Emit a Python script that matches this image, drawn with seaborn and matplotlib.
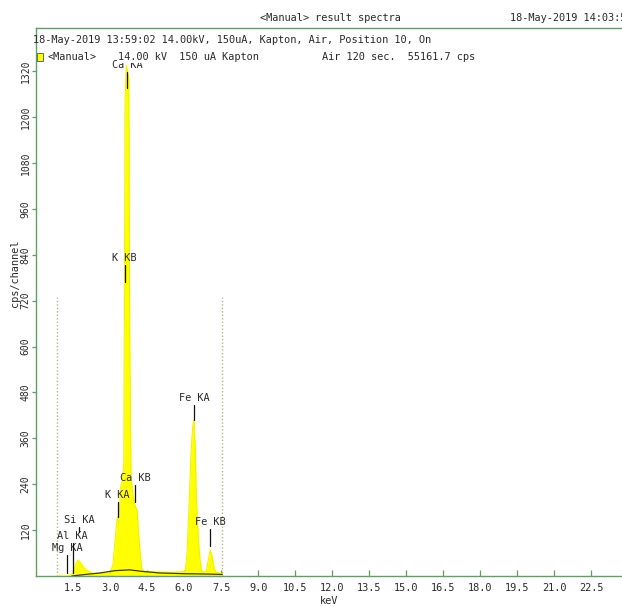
import matplotlib
matplotlib.use("Agg")
import matplotlib.pyplot as plt
import seaborn as sns
import pandas as pd
from matplotlib.patches import Rectangle

# ---------------- data ----------------
energy_kev = [0.85, 1.20, 1.40, 1.47, 1.55, 1.62, 1.71, 1.80, 1.90, 2.05, 2.25, 2.60,
              3.00, 3.12, 3.20, 3.27, 3.31, 3.36, 3.42, 3.50, 3.56, 3.61, 3.66, 3.76,
              3.80, 3.85, 3.92, 4.01, 4.10, 4.18, 4.28, 4.40, 5.00, 5.60, 6.05, 6.12,
              6.20, 6.28, 6.35, 6.40, 6.45, 6.50, 6.56, 6.62, 6.70, 6.80, 6.90, 6.98,
              7.06, 7.14, 7.22, 7.30, 7.40, 7.55]
cps = [0, 0, 2, 5, 20, 32, 42, 35, 25, 15, 8, 6,
       8, 30, 90, 140, 155, 135, 230, 250, 300, 1250, 1335, 1300,
       600, 260, 215, 185, 170, 90, 20, 12, 10, 10, 12, 60,
       180, 320, 390, 408, 340, 200, 120, 60, 15, 10, 12, 40,
       68, 50, 20, 10, 8, 6]

bg_kev = [1.45, 2.0, 2.6, 3.2, 3.8, 4.3, 5.0, 6.0, 7.0, 7.55]
bg_cps = [0, 4, 8, 14, 16, 12, 8, 6, 5, 4]

peak_labels = ["Mg KA", "Al KA", "Si KA", "K KA", "K KB", "Ca KA", "Ca KB", "Fe KA", "Fe KB"]
peak_kev = [1.25, 1.49, 1.74, 3.31, 3.59, 3.69, 4.01, 6.40, 7.06]
marker_top = [55, 86, 128, 193, 813, 1318, 238, 447, 123]
marker_bottom = [8, 8, 115, 154, 769, 1276, 193, 408, 78]

roi_kev = [0.85, 7.55]
roi_height = 730

x_ticks = [1.5, 3.0, 4.5, 6.0, 7.5, 9.0, 10.5, 12.0, 13.5, 15.0, 16.5, 18.0, 19.5, 21.0, 22.5]
y_ticks = [120, 240, 360, 480, 600, 720, 840, 960, 1080, 1200, 1320]

title_text = "<Manual> result spectra"
date_text = "18-May-2019 14:03:5"
header1 = "18-May-2019 13:59:02 14.00kV, 150uA, Kapton, Air, Position 10, On"
header2a = "<Manual>"
header2b = "14.00 kV  150 uA Kapton"
header2c = "Air 120 sec.  55161.7 cps"

# ---------------- style ----------------
sns.set_theme(style="white")
mono = "DejaVu Sans Mono"
plt.rcParams["font.family"] = [mono, "DejaVu Sans"]
green = "#5f9f5f"
txt = "#2a2a2a"

W, H = 622, 607
fig = plt.figure(figsize=(W / 100, H / 100), dpi=100)
ax = fig.add_axes([36 / W, 31 / H, 1 - 36 / W, 548 / H])

spec = pd.DataFrame({"keV": energy_kev, "cps": cps})
bg = pd.DataFrame({"keV": bg_kev, "cps": bg_cps})

ax.fill_between(spec["keV"], 0, spec["cps"], color="#ffff00", linewidth=0, zorder=2)
sns.lineplot(data=spec, x="keV", y="cps", ax=ax, color="#f2f200", linewidth=0.8,
             sort=False, zorder=3)
sns.lineplot(data=bg, x="keV", y="cps", ax=ax, color="#3c3c28", linewidth=0.9,
             sort=False, zorder=4)

for xv in roi_kev:
    ax.plot([xv, xv], [0, roi_height], color="#b5b58a", linestyle=(0, (1, 1.5)),
            linewidth=1.0, zorder=1)

for lab, xv, top, bot in zip(peak_labels, peak_kev, marker_top, marker_bottom):
    ax.plot([xv, xv], [bot, top], color="#111111", linewidth=0.9, zorder=5)
    ax.text(xv, top + 6, lab, ha="center", va="bottom", fontsize=7.4,
            family=mono, color=txt, zorder=5, clip_on=False)

ax.set_xlim(0, 23.75)
ax.set_ylim(0, 1433)
ax.set_xticks(x_ticks)
ax.set_xticklabels([f"{v:.1f}" for v in x_ticks])
ax.set_yticks(y_ticks)
ax.set_yticklabels([str(v) for v in y_ticks], rotation=90, va="center")

for side in ["left", "bottom", "top"]:
    ax.spines[side].set_visible(True)
    ax.spines[side].set_color(green)
    ax.spines[side].set_linewidth(1.0)
ax.spines["right"].set_visible(False)

ax.tick_params(axis="x", direction="in", length=4, width=0.9, color=green,
               labelsize=7.4, labelcolor=txt, pad=5, bottom=True)
ax.tick_params(axis="y", direction="out", length=3, width=0.9, color=green,
               labelsize=7, labelcolor=txt, pad=1, left=True)

ax.set_xlabel("keV", fontsize=7.4, color=txt, family=mono)
ax.xaxis.set_label_coords(0.50, -0.036)
ax.set_ylabel("cps/channel", fontsize=7.4, color=txt, family=mono)
ax.yaxis.set_label_coords(-0.028, 0.553)

# header texts
fig.text(330 / W, 1 - 18 / H, title_text, ha="center", va="center", fontsize=7.4,
         color=txt, family=mono)
fig.text(510 / W, 1 - 18 / H, date_text, ha="left", va="center", fontsize=7.4,
         color=txt, family=mono)
fig.text(33 / W, 1 - 40 / H, header1, ha="left", va="center", fontsize=7.4,
         color=txt, family=mono)
fig.text(47 / W, 1 - 57 / H, header2a, ha="left", va="center", fontsize=7.4,
         color=txt, family=mono)
fig.text(118 / W, 1 - 57 / H, header2b, ha="left", va="center", fontsize=7.4,
         color=txt, family=mono,
         bbox=dict(facecolor="white", edgecolor="none", pad=0.5), zorder=10)
fig.text(322 / W, 1 - 57 / H, header2c, ha="left", va="center", fontsize=7.4,
         color=txt, family=mono)
fig.patches.append(Rectangle((37 / W, 1 - 61 / H), 6 / W, 8 / H, transform=fig.transFigure,
                             facecolor="#ffff00", edgecolor="#555555", linewidth=0.6))

fig.savefig("out.png", dpi=100)
